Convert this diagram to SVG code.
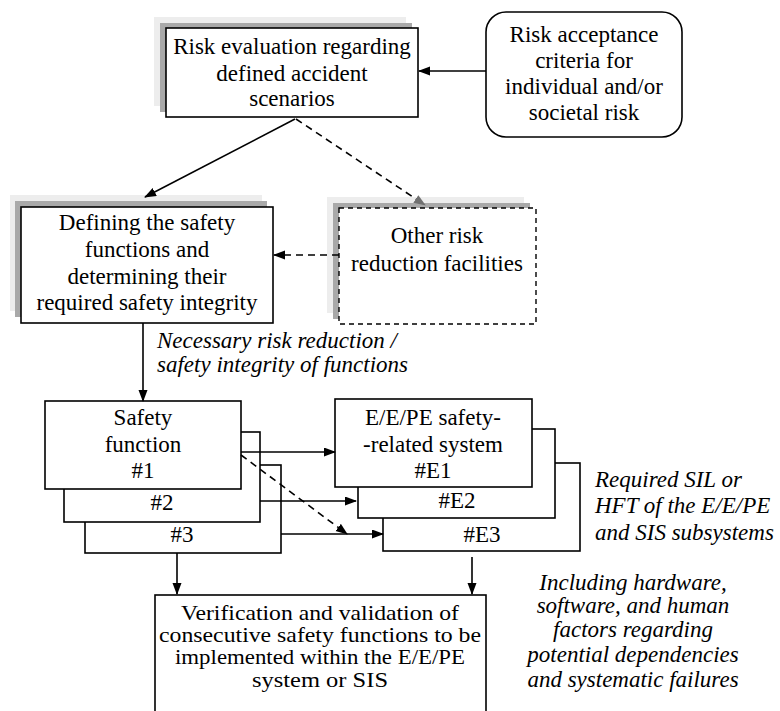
<svg xmlns="http://www.w3.org/2000/svg" width="780" height="711" viewBox="0 0 780 711" font-family="'Liberation Serif', 'DejaVu Serif', serif">
<style>
text{font-family:'Liberation Serif','DejaVu Serif',serif;font-size:23px;fill:#000;text-anchor:middle}
text.it{font-style:italic}
text.l{text-anchor:start}
text.v{font-size:21px}
.box{fill:#fff;stroke:#000;stroke-width:1.6}
.dbox{fill:#fff;stroke:#000;stroke-width:1.4;stroke-dasharray:5,4}
.sh1{fill:#ededed}
.sh2{fill:#a9a9a9}
.c{fill:none;stroke:#000;stroke-width:1.6}
.d{fill:none;stroke:#000;stroke-width:1.6;stroke-dasharray:7,5}
</style>
<defs>
<marker id="a" markerUnits="userSpaceOnUse" markerWidth="12" markerHeight="10" refX="11" refY="4.5" orient="auto">
<path d="M0,0 L12,4.5 L0,9 z" fill="#000"/>
</marker>
<marker id="ag" markerUnits="userSpaceOnUse" markerWidth="12" markerHeight="10" refX="11" refY="4.5" orient="auto">
<path d="M0,0 L12,4.5 L0,9 z" fill="#707070"/>
</marker>
</defs>
<rect width="780" height="711" fill="#fff"/>

<g id="risk-evaluation">
<rect class="sh1" x="154" y="17" width="252" height="89"/>
<rect class="sh2" x="160" y="23" width="252" height="89"/>
<rect class="box" x="166" y="28" width="252" height="89"/>
<text x="292" y="54">Risk evaluation regarding</text>
<text x="292" y="81">defined accident</text>
<text x="292" y="106">scenarios</text>
</g>

<g id="risk-acceptance">
<rect class="box" x="486" y="12" width="196" height="125" rx="20"/>
<text x="584" y="42">Risk acceptance</text>
<text x="584" y="68">criteria for</text>
<text x="584" y="94">individual and/or</text>
<text x="584" y="120">societal risk</text>
</g>

<g id="defining">
<rect class="sh1" x="10" y="195" width="252" height="116"/>
<rect class="sh2" x="15" y="201" width="252" height="116"/>
<rect class="box" x="21" y="207" width="252" height="116"/>
<text x="147" y="230">Defining the safety</text>
<text x="147" y="257">functions and</text>
<text x="147" y="284">determining their</text>
<text x="147" y="310">required safety integrity</text>
</g>

<g id="other-risk">
<rect class="sh1" x="327" y="197" width="197" height="116"/>
<rect class="sh2" x="333" y="203" width="197" height="116"/>
<rect class="dbox" x="339" y="208" width="197" height="116"/>
<text x="437" y="243">Other risk</text>
<text x="437" y="271">reduction facilities</text>
</g>

<g id="label-necessary">
<text class="it l" x="157" y="348">Necessary risk reduction /</text>
<text class="it l" x="157" y="372">safety integrity of functions</text>
</g>

<g id="safety-functions">
<rect class="box" x="85" y="465" width="196" height="88"/>
<text x="182" y="542">#3</text>
<rect class="box" x="64" y="432" width="196" height="90"/>
<text x="162" y="510">#2</text>
<rect class="box" x="45" y="401" width="196" height="88"/>
<text x="143" y="425">Safety</text>
<text x="143" y="452">function</text>
<text x="143" y="478">#1</text>
</g>

<g id="ee-systems">
<rect class="box" x="383" y="463" width="197" height="88"/>
<text x="482" y="542">#E3</text>
<rect class="box" x="358" y="429" width="197" height="89"/>
<text x="457" y="508">#E2</text>
<rect class="box" x="335" y="399" width="197" height="88"/>
<text x="433" y="425">E/E/PE safety-</text>
<text x="433" y="452">-related system</text>
<text x="433" y="478">#E1</text>
</g>

<g id="label-required">
<text class="it l" x="595" y="487">Required SIL or</text>
<text class="it l" x="595" y="513">HFT of the E/E/PE</text>
<text class="it l" x="595" y="540">and SIS subsystems</text>
</g>

<g id="verification">
<rect class="box" x="155" y="595" width="331" height="130"/>
<text class="v" x="320" y="620" textLength="278" lengthAdjust="spacingAndGlyphs">Verification and validation of</text>
<text class="v" x="320" y="642" textLength="322" lengthAdjust="spacingAndGlyphs">consecutive safety functions to be</text>
<text class="v" x="320" y="664" textLength="290" lengthAdjust="spacingAndGlyphs">implemented within the E/E/PE</text>
<text class="v" x="320" y="687" textLength="136" lengthAdjust="spacingAndGlyphs">system or SIS</text>
</g>

<g id="label-including">
<text class="it" x="633" y="590">Including hardware,</text>
<text class="it" x="633" y="613">software, and human</text>
<text class="it" x="633" y="637">factors regarding</text>
<text class="it" x="633" y="662">potential dependencies</text>
<text class="it" x="633" y="687">and systematic failures</text>
</g>

<g id="connectors">
<line class="c" x1="486" y1="71" x2="419" y2="71" marker-end="url(#a)"/>
<line class="c" x1="295" y1="119" x2="145" y2="197" marker-end="url(#a)"/>
<line class="d" x1="296" y1="119" x2="425" y2="205" marker-end="url(#ag)"/>
<line class="d" x1="339" y1="255" x2="274" y2="255" marker-end="url(#a)"/>
<line class="c" x1="143" y1="323" x2="143" y2="401" marker-end="url(#a)"/>
<line class="c" x1="241" y1="452" x2="335" y2="452" marker-end="url(#a)"/>
<line class="c" x1="260" y1="501" x2="356" y2="501" marker-end="url(#a)"/>
<line class="c" x1="281" y1="534" x2="383" y2="534" marker-end="url(#a)"/>
<line class="d" x1="241" y1="455" x2="347" y2="534" marker-end="url(#a)"/>
<line class="c" x1="177" y1="553" x2="177" y2="594" marker-end="url(#a)"/>
<line class="c" x1="472" y1="557" x2="472" y2="594" marker-end="url(#a)"/>
</g>
</svg>
